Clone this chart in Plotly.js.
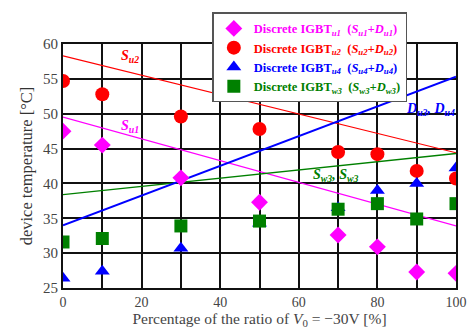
<!DOCTYPE html>
<html><head><meta charset="utf-8">
<script src="https://cdn.plot.ly/plotly-3.0.1.min.js"></script>
<style>body{margin:0;background:#fff}#c{width:467px;height:331px}</style>
</head><body><div id="c"></div>
<script>
const xPts = [0, 10, 30, 50, 70, 80, 90, 100];
const igbtU1 = [47.5, 45.5, 40.8, 37.3, 32.6, 30.9, 27.3, 27.1];
const igbtU2 = [54.7, 52.8, 49.6, 47.8, 44.5, 44.2, 41.8, 40.7];
const igbtU4 = [26.4, 27.4, 30.7, 34.3, 36.5, 39.0, 40.0, 42.2];
const igbtW3 = [31.6, 32.1, 33.9, 34.6, 36.3, 37.1, 34.9, 37.1];
const xLine = [0, 100];
const lineSu2 = [58.3, 44.4];
const lineSu1 = [49.5, 33.9];
const lineDu = [34.0, 55.3];
const lineSw = [38.4, 44.3];
const xTickVals = [0, 10, 20, 30, 40, 50, 60, 70, 80, 90, 100];
const xTickText = ['0', '', '20', '', '40', '', '60', '', '80', '', '100'];
const yTickVals = [25, 30, 35, 40, 45, 50, 55, 60];

const cMag = '#ff00ff', cRed = '#ff0000', cBlue = '#0000ff', cGreen = '#008000';
const serif = '"Liberation Serif", "Times New Roman", serif';

function lineTrace(y, color, w) {
  return {x: xLine, y: y, mode: 'lines', line: {color: color, width: w}, showlegend: false, hoverinfo: 'skip'};
}
function mk(y, color, sym, size, name) {
  return {x: xPts, y: y, mode: 'markers', name: name,
    marker: {color: color, symbol: sym, size: size, line: {width: 0}}};
}
function lg(color, sub1, sub2) {
  return '<span style="color:' + color + '">Discrete IGBT<sub><i>' + sub1 + '</i></sub>  (<i>S<sub>' + sub2 + '</sub>+D<sub>' + sub2 + '</sub></i>)</span>';
}
const data = [
  lineTrace(lineSu2, cRed, 1.2),
  lineTrace(lineSu1, cMag, 1.2),
  lineTrace(lineSw, cGreen, 1.4),
  lineTrace(lineDu, cBlue, 2),
  mk(igbtU1, cMag, 'diamond', 13, lg(cMag, 'u1', 'u1')),
  mk(igbtU2, cRed, 'circle', 14, lg(cRed, 'u2', 'u2')),
  mk(igbtU4, cBlue, 'triangle-up', 13, lg(cBlue, 'u4', 'u4')),
  mk(igbtW3, cGreen, 'square', 13, lg(cGreen, 'w3', 'w3'))
];
const layout = {
  width: 467, height: 331,
  margin: {l: 63, r: 11, t: 44, b: 43},
  paper_bgcolor: '#fff', plot_bgcolor: '#fff',
  font: {family: serif, color: '#444', size: 14},
  showlegend: true,
  legend: {x: 0.38, y: 1.13, xanchor: 'left', yanchor: 'top', bgcolor: '#fff',
    bordercolor: '#555', borderwidth: 1.5,
    font: {family: serif, size: 12.5, weight: 'bold', color: '#000'},
    tracegroupgap: 0, itemsizing: 'trace', itemwidth: 30},
  xaxis: {range: [0, 100], tickvals: xTickVals, ticktext: xTickText,
    showgrid: true, gridcolor: '#111', gridwidth: 2,
    showline: true, mirror: true, linecolor: '#111', linewidth: 2, zeroline: false,
    ticks: '', tickfont: {size: 14, color: '#444'},
    title: {text: 'Percentage of the ratio of <i>V</i><sub>0</sub> = −30V [%]', font: {size: 15.5, color: '#444'}, standoff: 3}},
  yaxis: {range: [25, 60], tickvals: yTickVals, showgrid: true, gridcolor: '#111', gridwidth: 2,
    showline: true, mirror: true, linecolor: '#111', linewidth: 2, zeroline: false,
    ticks: '', tickfont: {size: 15, color: '#444'},
    title: {text: 'device temperature [°C]', font: {size: 16.5, color: '#333'}, standoff: 6}},
  annotations: [
    {x: 17, y: 58.2, text: '<b><i>S<sub>u2</sub></i></b>', showarrow: false, font: {color: cRed, size: 14, family: serif}},
    {x: 17, y: 48.1, text: '<b><i>S<sub>u1</sub></i></b>', showarrow: false, font: {color: cMag, size: 14, family: serif}},
    {x: 93.5, y: 50.6, text: '<b><i>D<sub>u3</sub>, D<sub>u4</sub></i></b>', showarrow: false, font: {color: cBlue, size: 14, family: serif}},
    {x: 69.5, y: 41.2, text: '<b><i>S<sub>w3</sub>, S<sub>w3</sub></i></b>', showarrow: false, font: {color: cGreen, size: 14, family: serif}}
  ]
};
Plotly.newPlot('c', data, layout, {displayModeBar: false, staticPlot: true});
</script></body></html>
